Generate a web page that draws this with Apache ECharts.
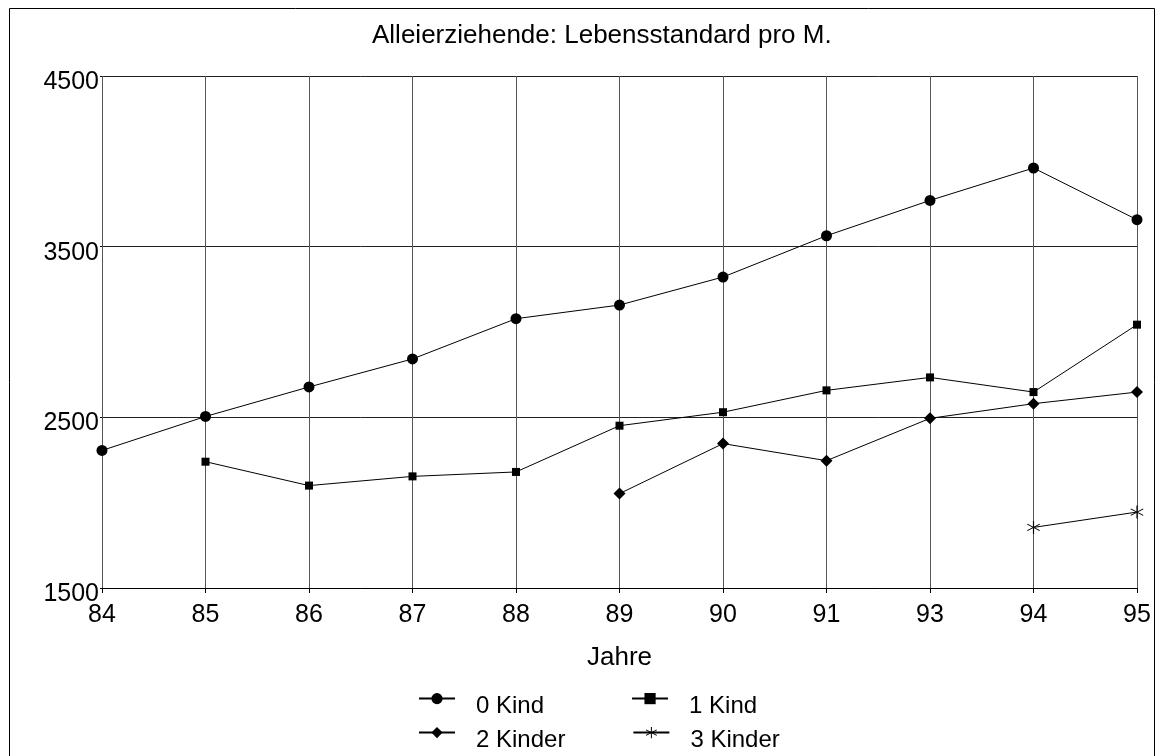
<!DOCTYPE html>
<html>
<head>
<meta charset="utf-8">
<script src="https://cdn.jsdelivr.net/npm/echarts@6/dist/echarts.min.js"></script>
<style>
html,body{margin:0;padding:0;background:#fff;}
#chart{width:1157px;height:756px;}
</style>
</head>
<body>
<div id="chart"></div>
<script>
const titleText = 'Alleierziehende: Lebensstandard pro M.';
const xAxisName = 'Jahre';
const years = ['84','85','86','87','88','89','90','91','93','94','95'];
const yTicks = [1500, 2500, 3500, 4500];
const seriesNames = ['0 Kind', '1 Kind', '2 Kinder', '3 Kinder'];
const kind0 = [2306, 2505, 2678, 2842, 3078, 3158, 3322, 3564, 3771, 3961, 3658];
const kind1 = [null, 2240, 2100, 2154, 2180, 2451, 2530, 2658, 2734, 2648, 3043];
const kinder2 = [null, null, null, null, null, 2053, 2346, 2246, 2494, 2580, 2648];
const kinder3 = [null, null, null, null, null, null, null, null, null, 1855, 1945];

const FONT = '"Liberation Sans", Arial, Helvetica, sans-serif';
const starPath = 'path://M9.2,0 L10.8,0 L10.8,20 L9.2,20 Z M1.69,15.61 L19.01,5.61 L18.31,4.39 L0.99,14.39 Z M0.99,5.61 L18.31,15.61 L19.01,14.39 L1.69,4.39 Z';

function mkSeries(name, data, symbol, size) {
  return {
    name: name, type: 'line', data: data, symbol: symbol, symbolSize: size,
    showAllSymbol: true, connectNulls: false,
    lineStyle: { color: '#000', width: 1 },
    itemStyle: { color: '#000' },
    emphasis: { disabled: true },
    animation: false
  };
}

const chart = echarts.init(document.getElementById('chart'), null, { renderer: 'canvas' });
const legendText = {
  fontFamily: FONT, fontSize: 24, color: '#000',
  rich: { t: { fontFamily: FONT, fontSize: 24, color: '#000', padding: [16, 0, 0, 16] } }
};
const legendFmt = function (name) { return '{t|' + name + '}'; };
chart.setOption({
  backgroundColor: '#fff',
  animation: false,
  title: {
    text: titleText, left: 372, top: 23, padding: 0,
    textStyle: { fontFamily: FONT, fontSize: 26, fontWeight: 'normal', color: '#000' }
  },
  graphic: [{
    type: 'rect', shape: { x: 9.5, y: 8.5, width: 1145, height: 760 },
    style: { fill: null, stroke: '#000', lineWidth: 1 }, silent: true, z: -1
  }],
  grid: { left: 102, right: 20, top: 76, bottom: 168, containLabel: false },
  legend: [
    { data: [seriesNames[0], seriesNames[1]], left: 418, top: 693, padding: 0, orient: 'horizontal',
      itemWidth: 36, itemHeight: 14, itemGap: 87, textStyle: legendText, formatter: legendFmt, selectedMode: false },
    { data: [seriesNames[2], seriesNames[3]], left: 418, top: 727, padding: 0, orient: 'horizontal',
      itemWidth: 36, itemHeight: 14, itemGap: 67, textStyle: legendText, formatter: legendFmt, selectedMode: false }
  ],
  xAxis: {
    type: 'category', data: years, boundaryGap: false,
    name: xAxisName, nameLocation: 'middle', nameGap: 57,
    nameTextStyle: { fontFamily: FONT, fontSize: 26, color: '#000' },
    axisLine: { lineStyle: { color: '#000', width: 1 } },
    axisTick: { show: true, length: 5, lineStyle: { color: '#000' } },
    axisLabel: { fontFamily: FONT, fontSize: 25, color: '#000', margin: 15 },
    splitLine: { show: true, lineStyle: { color: '#555', width: 1 } }
  },
  yAxis: {
    type: 'value', min: yTicks[0], max: yTicks[yTicks.length - 1], interval: 1000,
    axisLine: { show: false },
    axisTick: { show: true, length: 2, lineStyle: { color: '#000' } },
    axisLabel: { fontFamily: FONT, fontSize: 25, color: '#000', margin: 3,
      verticalAlign: 'top', lineHeight: 12,
      formatter: function (v) { return String(v); } },
    splitLine: { show: true, lineStyle: { color: '#222', width: 1 } }
  },
  series: [
    mkSeries(seriesNames[0], kind0, 'circle', 11),
    mkSeries(seriesNames[1], kind1, 'rect', 8),
    mkSeries(seriesNames[2], kinder2, 'diamond', 12),
    mkSeries(seriesNames[3], kinder3, starPath, 13)
  ]
});
</script>
</body>
</html>
